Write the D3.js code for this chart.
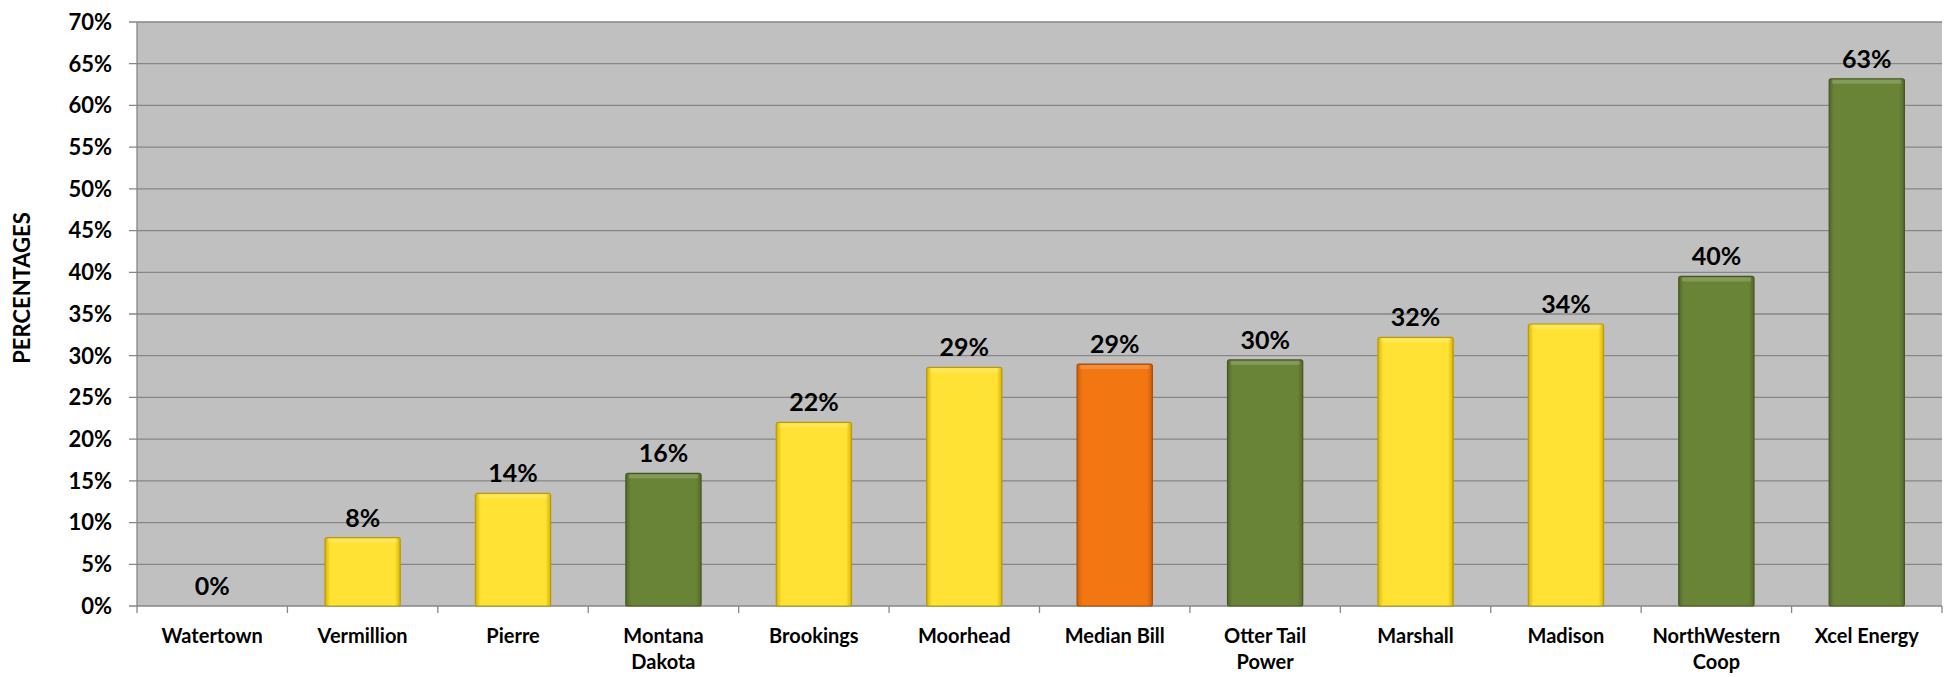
<!DOCTYPE html>
<html>
<head>
<meta charset="utf-8">
<script src="https://cdn.jsdelivr.net/npm/d3@7"></script>
<style>
  body { margin: 0; background: #fff; }
  text { font-family: Lato, "Open Sans", sans-serif; font-weight: bold; fill: #000; }
</style>
</head>
<body>
<script>
// --- Data ---
const categories = ["Watertown", "Vermillion", "Pierre", "Montana\nDakota", "Brookings", "Moorhead",
  "Median Bill", "Otter Tail\nPower", "Marshall", "Madison", "NorthWestern\nCoop", "Xcel Energy"];
const values = [0, 8.2, 13.5, 15.9, 22.0, 28.6, 29.0, 29.5, 32.2, 33.8, 39.5, 63.2];
const labels = ["0%", "8%", "14%", "16%", "22%", "29%", "29%", "30%", "32%", "34%", "40%", "63%"];
const kinds = ["city", "city", "city", "utility", "city", "city", "median", "utility", "city", "city", "utility", "utility"];
const yTicks = [0, 5, 10, 15, 20, 25, 30, 35, 40, 45, 50, 55, 60, 65, 70];

const rows = categories.map((c, i) => ({ cat: c, value: values[i], label: labels[i], kind: kinds[i] }));

// --- Layout ---
const W = 1944, H = 677;
const M = { left: 137, right: 2, top: 22, bottom: 71 };
const PW = W - M.left - M.right, PH = H - M.top - M.bottom;

const COLORS = {
  city:   { base: "#FFE234", dark: "#D9B400", edge: "#B89A10" },
  utility:{ base: "#6A8437", dark: "#55692A", edge: "#46561F" },
  median: { base: "#F27612", dark: "#D05E08", edge: "#A44A08" }
};

const svg = d3.select("body").append("svg")
  .attr("width", W).attr("height", H);

// Bevel-ish gradients
const defs = svg.append("defs");
Object.entries(COLORS).forEach(([k, c]) => {
  const gr = defs.append("linearGradient").attr("id", "grad-" + k)
    .attr("x1", 0).attr("x2", 1).attr("y1", 0).attr("y2", 0);
  gr.append("stop").attr("offset", "0%").attr("stop-color", c.dark);
  gr.append("stop").attr("offset", "7%").attr("stop-color", c.base);
  gr.append("stop").attr("offset", "93%").attr("stop-color", c.base);
  gr.append("stop").attr("offset", "100%").attr("stop-color", c.dark);
});

const x = d3.scaleBand().domain(categories).range([0, PW]).paddingInner(0.5).paddingOuter(0.25);
const y = d3.scaleLinear().domain([0, 70]).range([PH, 0]);

const g = svg.append("g").attr("transform", `translate(${M.left},${M.top})`);

// Plot background
g.append("rect").attr("width", PW).attr("height", PH).attr("fill", "#C0C0C0");

// Gridlines
g.selectAll("line.grid").data(yTicks).enter().append("line")
  .attr("class", "grid")
  .attr("x1", -8).attr("x2", PW)
  .attr("y1", d => y(d)).attr("y2", d => y(d))
  .attr("stroke", "#868686").attr("stroke-width", 1.3);

// Left axis
g.append("line").attr("x1", 0).attr("x2", 0).attr("y1", 0).attr("y2", PH)
  .attr("stroke", "#868686").attr("stroke-width", 1.3);

// Category boundary ticks
const step = x.step();
g.selectAll("line.xtick").data(d3.range(categories.length + 1)).enter().append("line")
  .attr("class", "xtick")
  .attr("x1", i => i * step).attr("x2", i => i * step)
  .attr("y1", PH).attr("y2", PH + 7)
  .attr("stroke", "#868686").attr("stroke-width", 1.3);

// Y tick labels
g.selectAll("text.ytick").data(yTicks).enter().append("text")
  .attr("class", "ytick")
  .attr("x", -25).attr("y", d => y(d)).attr("dy", "0.36em")
  .attr("text-anchor", "end").attr("font-size", 22)
  .text(d => d + "%");

// Bars
const shown = rows.filter(d => d.value > 0);
g.selectAll("rect.bar").data(shown).enter().append("rect")
  .attr("class", "bar")
  .attr("x", d => x(d.cat))
  .attr("y", d => y(d.value))
  .attr("width", x.bandwidth())
  .attr("height", d => y(0) - y(d.value))
  .attr("rx", 2)
  .attr("fill", d => `url(#grad-${d.kind})`)
  .attr("stroke", d => COLORS[d.kind].edge)
  .attr("stroke-width", 1.2);
// top highlight strip
g.selectAll("rect.hl").data(shown).enter().append("rect")
  .attr("class", "hl")
  .attr("x", d => x(d.cat) + 3)
  .attr("y", d => y(d.value) + 1)
  .attr("width", x.bandwidth() - 6)
  .attr("height", 4)
  .attr("fill", "#fff").attr("opacity", 0.18);

// Data labels
g.selectAll("text.val").data(rows).enter().append("text")
  .attr("class", "val")
  .attr("x", d => x(d.cat) + x.bandwidth() / 2)
  .attr("y", d => y(d.value) - 11)
  .attr("text-anchor", "middle").attr("font-size", 25)
  .text(d => d.label);

// Category labels
const cl = g.selectAll("text.cat").data(categories).enter().append("text")
  .attr("class", "cat")
  .attr("x", d => x(d) + x.bandwidth() / 2)
  .attr("y", PH + 37)
  .attr("text-anchor", "middle").attr("font-size", 20);
cl.each(function(d) {
  const t = d3.select(this);
  d.split("\n").forEach((line, k) => {
    t.append("tspan").attr("x", t.attr("x")).attr("dy", k === 0 ? 0 : 26).text(line);
  });
});

// Y axis title
svg.append("text")
  .attr("transform", `translate(30,288) rotate(-90)`)
  .attr("text-anchor", "middle").attr("font-size", 22)
  .text("PERCENTAGES");
</script>
</body>
</html>
